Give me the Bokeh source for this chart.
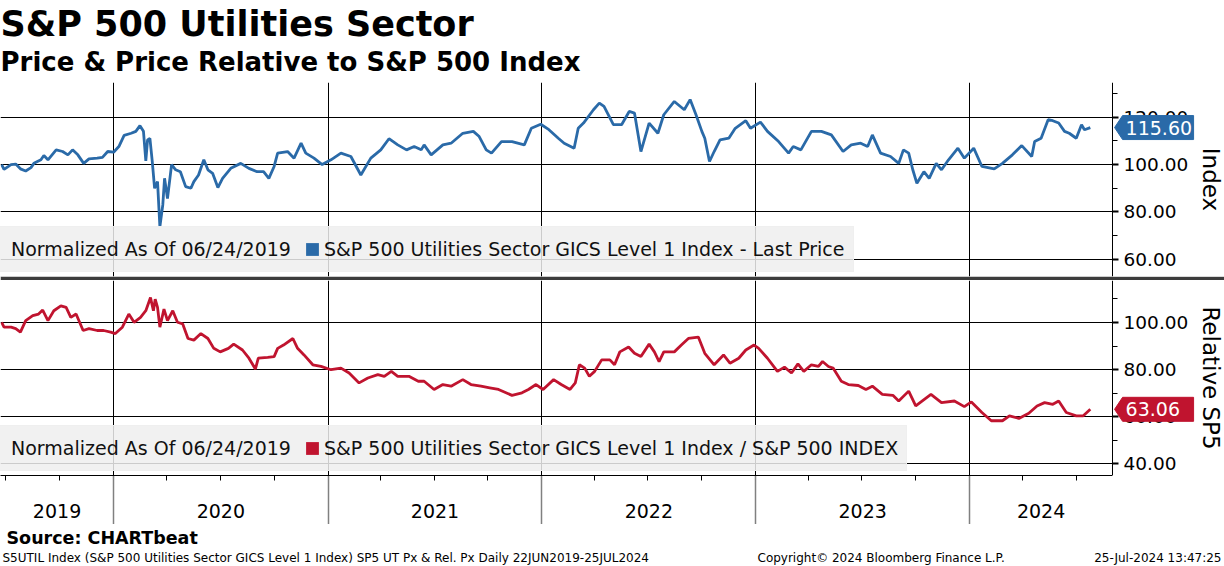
import pandas as pd
from bokeh.plotting import figure
from bokeh.layouts import column
from bokeh.models import (Range1d, FixedTicker, PrintfTickFormatter, Legend, LegendItem,
                          Label, ColumnDataSource, BoxAnnotation)
from bokeh.core.properties import value
from bokeh.embed import file_html
from bokeh.resources import INLINE

FONT = "DejaVu Sans"

# ---------------- text ----------------
title_text = "S&P 500 Utilities Sector"
subtitle_text = "Price & Price Relative to S&P 500 Index"
norm_note = "Normalized As Of 06/24/2019"
price_name = "S&P 500 Utilities Sector GICS Level 1 Index - Last Price"
rel_name = "S&P 500 Utilities Sector GICS Level 1 Index / S&P 500 INDEX"
price_axis_title = "Index"
rel_axis_title = "Relative SP5"
source_text = "Source: CHARTbeat"
footer_left = "S5UTIL Index (S&P 500 Utilities Sector GICS Level 1 Index) SP5 UT Px & Rel. Px  Daily 22JUN2019-25JUL2024"
footer_mid = "Copyright\u00a9 2024 Bloomberg Finance L.P."
footer_right = "25-Jul-2024 13:47:25"

years = ["2019", "2020", "2021", "2022", "2023", "2024"]
year_starts = ["2019-01-01", "2020-01-01", "2021-01-01", "2022-01-01", "2023-01-01", "2024-01-01"]
x_start = "2019-06-22"
x_axis_date = "2024-09-01"   # where the value axis sits
x_end = "2025-03-11"         # right edge of the picture

price_ticks = [60, 80, 100, 120]
price_minor = [70, 90, 110, 130]
price_range = [52.8, 134.6]
rel_ticks = [40, 60, 80, 100]
rel_minor = [50, 70, 90, 110]
rel_range = [34.9, 117.87]

# ---------------- data ----------------
price_dates = [
    "2019-06-24", "2019-06-28", "2019-07-10", "2019-07-18", "2019-07-26", "2019-08-04", "2019-08-13",
    "2019-08-18", "2019-08-30", "2019-09-04", "2019-09-11", "2019-09-25", "2019-10-06", "2019-10-15",
    "2019-10-23", "2019-11-01", "2019-11-11", "2019-11-20", "2019-12-04", "2019-12-13", "2019-12-22",
    "2020-01-01", "2020-01-10", "2020-01-19", "2020-01-31", "2020-02-08", "2020-02-15", "2020-02-21",
    "2020-02-25", "2020-02-28", "2020-03-03", "2020-03-07", "2020-03-11", "2020-03-16", "2020-03-20",
    "2020-03-25", "2020-03-28", "2020-04-02", "2020-04-09", "2020-04-16", "2020-04-24", "2020-05-03",
    "2020-05-12", "2020-05-17", "2020-05-25", "2020-06-03", "2020-06-10", "2020-06-18", "2020-06-27",
    "2020-07-05", "2020-07-19", "2020-08-05", "2020-08-19", "2020-09-02", "2020-09-13", "2020-09-22",
    "2020-10-01", "2020-10-07", "2020-10-24", "2020-11-04", "2020-11-16", "2020-11-24", "2020-12-08",
    "2020-12-22",
    "2021-01-06", "2021-01-23", "2021-02-09", "2021-02-26", "2021-03-15", "2021-04-01", "2021-04-15",
    "2021-04-30", "2021-05-15", "2021-05-28", "2021-06-09", "2021-06-14", "2021-06-26", "2021-07-16",
    "2021-07-30", "2021-08-19", "2021-09-06", "2021-09-16", "2021-09-28", "2021-10-07", "2021-10-24",
    "2021-11-11", "2021-12-02", "2021-12-14", "2021-12-30",
    "2022-01-13", "2022-01-29", "2022-02-08", "2022-02-25", "2022-03-04", "2022-03-13", "2022-03-30",
    "2022-04-09", "2022-04-17", "2022-05-03", "2022-05-17", "2022-05-30", "2022-06-08", "2022-06-19",
    "2022-07-03", "2022-07-18", "2022-07-28", "2022-08-15", "2022-09-01", "2022-09-11", "2022-09-21",
    "2022-10-01", "2022-10-06", "2022-10-14", "2022-10-22", "2022-11-01", "2022-11-16", "2022-11-27",
    "2022-12-15", "2022-12-23",
    "2023-01-09", "2023-01-21", "2023-02-09", "2023-02-26", "2023-03-06", "2023-03-19", "2023-04-06",
    "2023-04-23", "2023-05-10", "2023-05-30", "2023-06-13", "2023-06-29", "2023-07-11", "2023-07-19",
    "2023-08-02", "2023-08-19", "2023-09-02", "2023-09-10", "2023-09-19", "2023-09-26", "2023-10-03",
    "2023-10-15", "2023-10-24", "2023-11-05", "2023-11-14", "2023-11-26", "2023-12-12", "2023-12-23",
    "2024-01-08", "2024-01-22", "2024-02-12", "2024-02-26", "2024-03-14", "2024-03-30", "2024-04-16",
    "2024-04-21", "2024-05-02", "2024-05-14", "2024-05-22", "2024-06-01", "2024-06-11", "2024-06-19",
    "2024-07-01", "2024-07-10", "2024-07-15", "2024-07-25",
]
price_vals = [
    100.0, 98.0, 100.0, 100.2, 98.2, 97.3, 98.7, 100.5, 102.0, 103.8, 102.0, 106.2, 105.5, 104.1,
    106.2, 104.1, 100.5, 102.4, 102.7, 103.0, 105.5,
    105.2, 107.6, 112.3, 113.2, 114.0, 116.4, 114.0, 101.6, 110.4, 111.0, 101.3, 90.0, 92.8, 73.8,
    83.0, 94.2, 85.7, 100.0, 97.8, 97.0, 90.7, 90.0, 92.8, 95.6, 102.0, 97.8, 96.3, 90.3, 94.2, 98.4,
    100.5, 98.4, 97.0, 97.0, 94.2, 99.2, 104.8, 105.5, 102.7, 109.0, 104.8, 102.7, 100.0,
    102.0, 104.8, 103.4, 95.6, 102.7, 106.2, 110.9, 108.3, 106.2, 107.6, 106.2, 108.3, 104.1, 108.3,
    109.0, 113.2, 114.0, 111.8, 106.2, 104.8, 109.7, 109.7, 108.3, 115.3, 117.0,
    114.7, 111.1, 109.0, 106.9, 115.3, 117.5, 123.1, 125.9, 124.5, 116.8, 116.8, 122.4, 121.7, 105.5,
    117.5, 113.2, 121.0, 126.6, 123.1, 127.4, 121.0, 114.0, 111.1, 101.3, 105.5, 110.4, 111.1, 115.3,
    118.5, 115.3,
    117.9, 114.0, 109.7, 104.8, 107.6, 106.2, 114.0, 114.0, 112.5, 105.5, 108.3, 109.0, 107.6, 112.5,
    104.8, 103.4, 100.5, 106.2, 104.8, 97.8, 92.1, 97.0, 94.2, 100.5, 97.8, 102.0, 106.9, 102.7,
    106.9, 99.2, 98.2, 100.5, 104.1, 108.0, 103.4, 109.7, 111.1, 118.9, 118.5, 117.5, 114.0, 113.2,
    111.1, 116.8, 114.7, 115.60,
]

rel_dates = [
    "2019-06-24", "2019-06-28", "2019-07-10", "2019-07-18", "2019-07-26", "2019-08-04", "2019-08-16",
    "2019-08-26", "2019-09-02", "2019-09-11", "2019-09-21", "2019-10-03", "2019-10-12", "2019-10-20",
    "2019-10-29", "2019-11-10", "2019-11-20", "2019-12-04", "2019-12-15", "2019-12-27",
    "2020-01-04", "2020-01-16", "2020-01-27", "2020-02-05", "2020-02-16", "2020-02-25", "2020-03-04",
    "2020-03-09", "2020-03-12", "2020-03-16", "2020-03-20", "2020-03-27", "2020-04-02", "2020-04-11",
    "2020-04-19", "2020-04-28", "2020-05-07", "2020-05-17", "2020-05-29", "2020-06-10", "2020-06-20",
    "2020-07-01", "2020-07-15", "2020-07-24", "2020-08-08", "2020-08-19", "2020-08-30", "2020-09-04",
    "2020-09-20", "2020-10-01", "2020-10-07", "2020-10-17", "2020-11-02", "2020-11-10", "2020-11-21",
    "2020-12-06", "2020-12-20",
    "2021-01-06", "2021-01-23", "2021-02-06", "2021-02-23", "2021-03-10", "2021-03-27", "2021-04-07",
    "2021-04-19", "2021-04-30", "2021-05-19", "2021-06-04", "2021-06-14", "2021-07-01", "2021-07-16",
    "2021-07-30", "2021-08-19", "2021-09-02", "2021-09-19", "2021-10-04", "2021-10-19", "2021-11-11",
    "2021-11-28", "2021-12-09", "2021-12-22",
    "2022-01-03", "2022-01-21", "2022-02-03", "2022-02-18", "2022-02-27", "2022-03-06", "2022-03-15",
    "2022-03-23", "2022-04-01", "2022-04-13", "2022-04-27", "2022-05-05", "2022-05-14", "2022-05-29",
    "2022-06-08", "2022-06-19", "2022-07-03", "2022-07-12", "2022-07-20", "2022-07-28", "2022-08-15",
    "2022-08-27", "2022-09-08", "2022-09-25", "2022-10-06", "2022-10-22", "2022-11-07", "2022-11-18",
    "2022-12-03", "2022-12-15", "2022-12-29",
    "2023-01-06", "2023-01-21", "2023-02-07", "2023-02-19", "2023-03-03", "2023-03-14", "2023-03-24",
    "2023-04-06", "2023-04-18", "2023-04-25", "2023-05-05", "2023-05-13", "2023-05-27", "2023-06-08",
    "2023-06-25", "2023-07-08", "2023-07-19", "2023-08-05", "2023-08-23", "2023-09-02", "2023-09-19",
    "2023-10-01", "2023-10-27", "2023-11-14", "2023-12-06", "2023-12-23",
    "2024-01-04", "2024-01-22", "2024-02-07", "2024-02-26", "2024-03-09", "2024-03-25", "2024-04-11",
    "2024-04-25", "2024-05-08", "2024-05-22", "2024-06-01", "2024-06-14", "2024-07-01", "2024-07-13",
    "2024-07-25",
]
rel_vals = [
    100.0, 98.0, 98.0, 97.4, 95.9, 100.8, 102.9, 103.6, 105.3, 100.8, 105.0, 107.1, 106.4, 102.2,
    103.6, 96.6, 97.4, 96.6, 96.6, 95.9,
    95.3, 98.0, 103.6, 100.1, 102.2, 105.0, 110.6, 105.0, 109.9, 106.4, 98.0, 105.7, 100.8, 105.0,
    100.1, 99.4, 93.2, 92.5, 95.3, 93.2, 89.0, 87.5, 89.0, 90.8, 88.3, 84.8, 80.2, 84.8, 85.2, 85.5,
    89.0, 90.4, 93.2, 89.0, 86.2, 82.0, 81.3,
    79.9, 80.6, 78.5, 74.3, 76.4, 77.8, 77.1, 79.2, 77.1, 77.1, 75.0, 75.0, 71.5, 73.6, 72.9, 75.7,
    73.6, 72.9, 72.2, 71.5, 69.0, 70.1, 71.5, 73.6,
    71.5, 75.7, 73.6, 71.5, 74.3, 82.0, 80.6, 77.1, 79.2, 84.1, 84.1, 82.0, 87.5, 89.6, 86.9, 85.5,
    90.8, 87.5, 83.4, 87.5, 87.5, 90.4, 93.2, 93.8, 86.9, 82.0, 86.2, 82.7, 84.8, 88.3, 90.4,
    89.0, 84.8, 79.2, 81.0, 78.5, 82.4, 79.2, 82.0, 81.3, 83.4, 81.3, 80.6, 75.0, 73.6, 73.2, 71.5,
    72.9, 69.4, 69.0, 66.6, 70.8, 64.5, 69.4, 65.9, 66.6, 64.2,
    66.2, 61.7, 58.2, 58.2, 60.3, 59.2, 61.4, 64.5, 65.9, 65.2, 66.6, 61.7, 60.3, 60.3, 63.06,
]

BLUE = "#2a6aa8"
RED = "#c0142f"
SEP = "#3c3c3c"
LEG_BG = "#efefef"

# ---------------- layout constants ----------------
W = 1224
H_HEAD, H_TOP, H_SEP, H_BOT, H_STRIP, H_FOOT = 82, 194, 4, 195, 49, 42


def ms(d):
    return pd.Timestamp(d).value / 1e6


X0, X1, XA = ms(x_start), ms(x_end), ms(x_axis_date)
xr = Range1d(start=X0, end=X1)
year_ms = [ms(d) for d in year_starts[1:]]
quarter_ms = [ms(d) for d in pd.date_range("2019-07-01", "2024-07-01", freq="QS") if d.month != 1]
MS_PER_PX = (X1 - X0) / W


def plain(h):
    p = figure(width=W, height=h, x_range=Range1d(0, W), y_range=Range1d(h, 0),
               x_axis_location=None, y_axis_location=None, toolbar_location=None,
               output_backend="svg", min_border=0, outline_line_color=None)
    p.grid.visible = False
    return p


def panel(h, sep_h, yr, ticks, minor, axis_title, dates, vals, color, series_name):
    p = figure(width=W, height=h + sep_h, x_range=xr, y_range=Range1d(*yr),
               x_axis_type="datetime", x_axis_location=None, y_axis_location="right",
               toolbar_location=None, output_backend="svg", min_border_left=0,
               min_border_right=0, min_border_top=0, min_border_bottom=sep_h,
               outline_line_color=None, border_fill_color=SEP if sep_h else "white")
    ax = p.yaxis[0]
    ax.fixed_location = XA
    ax.ticker = FixedTicker(ticks=ticks, minor_ticks=minor)
    ax.formatter = PrintfTickFormatter(format="%.2f")
    ax.axis_line_color = "black"
    ax.major_tick_in = 0
    ax.major_tick_out = 6
    ax.major_tick_line_width = 2
    ax.minor_tick_in = 0
    ax.minor_tick_out = 5
    ax.major_label_standoff = 5
    ax.major_label_text_font = FONT
    ax.major_label_text_font_size = "18.5px"
    ax.major_label_text_color = "black"
    ax.axis_label = axis_title
    ax.axis_label_text_font = FONT
    ax.axis_label_text_font_size = "23px"
    ax.axis_label_text_font_style = "normal"
    ax.axis_label_text_color = "black"
    ax.axis_label_standoff = 7
    p.ygrid.ticker = FixedTicker(ticks=ticks)
    p.ygrid.grid_line_color = "black"
    p.xgrid.ticker = FixedTicker(ticks=year_ms)
    p.xgrid.grid_line_color = "black"
    # blank the grid to the right of the value axis
    p.add_layout(BoxAnnotation(left=XA, fill_color="white", fill_alpha=1.0,
                               line_color=None, level="underlay"))

    src = ColumnDataSource(dict(x=pd.to_datetime(dates), y=vals))
    p.line("x", "y", source=src, line_color=color, line_width=2.8)

    last_x, last = ms(dates[-1]), vals[-1]
    blank = p.quad(left=[last_x], right=[last_x], top=[last], bottom=[last],
                   fill_alpha=0, line_alpha=0)
    swatch = p.quad(left=[last_x], right=[last_x], top=[last], bottom=[last],
                    fill_color=color, line_color=None)
    leg = Legend(items=[LegendItem(label=norm_note, renderers=[blank]),
                        LegendItem(label=series_name, renderers=[swatch])],
                 location=(-18, 4), orientation="horizontal")
    leg.background_fill_color = LEG_BG
    leg.background_fill_alpha = 0.85
    # padding only applies with a visible border: give it the background colour
    leg.border_line_color = LEG_BG
    leg.border_line_alpha = 0.85
    leg.border_line_width = 1
    leg.padding = 8
    leg.spacing = 13
    leg.label_standoff = 4
    leg.glyph_width = 16
    leg.glyph_height = 16
    leg.label_height = 28
    leg.margin = 0
    leg.label_text_font = FONT
    leg.label_text_font_size = "19px"
    leg.label_text_color = "#111111"
    p.add_layout(leg)

    # last-value tag: pentagon pointing at the axis, with the value in white
    dpp = (yr[1] - yr[0]) / h
    xs = [XA + 2 * MS_PER_PX, XA + 10 * MS_PER_PX, XA + 81 * MS_PER_PX,
          XA + 81 * MS_PER_PX, XA + 10 * MS_PER_PX]
    ys = [last, last + 12 * dpp, last + 12 * dpp, last - 12 * dpp, last - 12 * dpp]
    tag = p.patch(xs, ys, fill_color=color, line_color=color)
    tag.level = "annotation"
    lab = Label(x=XA, y=last, x_offset=13, text=f"{last:.2f}", text_color="white",
                text_font=FONT, text_font_size="19px", text_align="left",
                text_baseline="middle")
    lab.level = "overlay"
    p.add_layout(lab)
    return p


# header
header = plain(H_HEAD)
header.text(x=[0], y=[23], text=[title_text], text_font=value(FONT), text_font_style="bold",
            text_font_size=value("35px"), text_baseline="middle", text_color="black")
header.text(x=[0], y=[61], text=[subtitle_text], text_font=value(FONT), text_font_style="bold",
            text_font_size=value("26px"), text_baseline="middle", text_color="black")

top = panel(H_TOP, H_SEP, price_range, price_ticks, price_minor, price_axis_title,
            price_dates, price_vals, BLUE, price_name)
bot = panel(H_BOT, 0, rel_range, rel_ticks, rel_minor, rel_axis_title,
            rel_dates, rel_vals, RED, rel_name)

# year strip (time axis)
strip = figure(width=W, height=H_STRIP, x_range=xr, y_range=Range1d(0, 1), x_axis_type="datetime",
               x_axis_location="above", y_axis_location=None, toolbar_location=None,
               output_backend="svg", min_border=0, outline_line_color=None)
sa = strip.xaxis[0]
sa.ticker = FixedTicker(ticks=[], minor_ticks=quarter_ms)
sa.bounds = (X0, XA)
sa.axis_line_color = "black"
sa.major_tick_in = 0
sa.major_tick_out = 0
sa.minor_tick_in = 5
sa.minor_tick_out = 0
sa.minor_tick_line_color = "black"
sa.major_label_standoff = 0
strip.xgrid.ticker = FixedTicker(ticks=year_ms)
strip.xgrid.grid_line_color = "#808080"
strip.xgrid.grid_line_width = 1.5
strip.ygrid.visible = False

bounds = [ms(d) for d in year_starts] + [ms("2025-01-01")]
mids = []
for i in range(len(years)):
    a = max(bounds[i], X0)
    b = min(bounds[i + 1], XA)
    mids.append((a + b) / 2)
strip.text(x=mids, y=[0.27] * len(years), text=years, text_font=value(FONT),
           text_font_size=value("19px"), text_align="center", text_baseline="middle",
           text_color="black")

# footer
footer = plain(H_FOOT)
footer.text(x=[6], y=[13], text=[source_text], text_font=value(FONT), text_font_style="bold",
            text_font_size=value("17.5px"), text_baseline="middle", text_color="black")
footer.text(x=[2], y=[33], text=[footer_left], text_font=value(FONT),
            text_font_size=value("12px"), text_baseline="middle", text_color="black")
footer.text(x=[757], y=[33], text=[footer_mid], text_font=value(FONT),
            text_font_size=value("12px"), text_baseline="middle", text_color="black")
footer.text(x=[1221], y=[33], text=[footer_right], text_font=value(FONT), text_align="right",
            text_font_size=value("12px"), text_baseline="middle", text_color="black")

layout = column(header, top, bot, strip, footer, spacing=0)
open("out.html", "w").write(file_html(layout, INLINE))
